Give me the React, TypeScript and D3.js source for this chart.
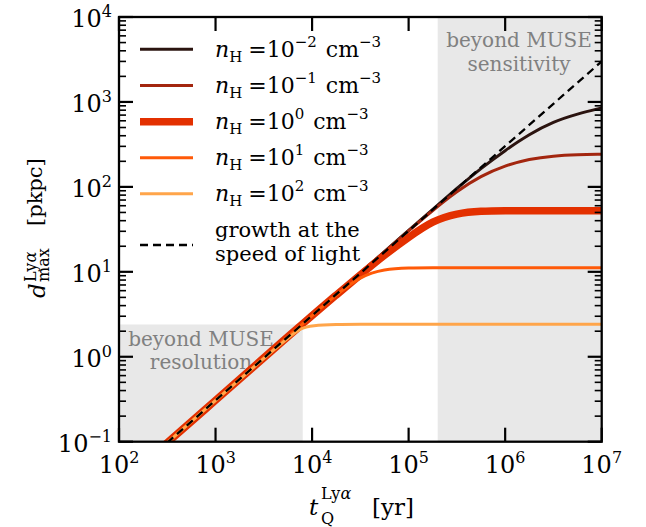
import React from 'react';
import * as d3 from 'd3';

// quasar age grid, t_Q [yr]
const tGrid = [250, 1000, 3160, 5620, 7500, 10000, 17800, 31600, 56200, 100000, 178000, 316000, 562000, 1000000, 1780000, 3160000, 5620000, 10000000];

// d_max [pkpc], one array per density
const dNHm2 = [0.077, 0.307, 0.97, 1.73, 2.3, 3.07, 5.46, 9.7, 17.3, 30.7, 54.5, 96, 166, 269, 417, 586, 724, 851];
const dNHm1 = [0.077, 0.307, 0.97, 1.73, 2.3, 3.07, 5.46, 9.7, 17.2, 30.4, 53, 89, 135, 178, 214, 232, 239, 242];
const dNH0 = [0.077, 0.307, 0.97, 1.73, 2.3, 3.05, 5.35, 9.2, 15.8, 25.5, 40, 49, 52, 52.5, 52.5, 52.5, 52.5, 52.5];
const dNH1 = [0.077, 0.307, 0.97, 1.73, 2.3, 3.06, 5.35, 8.9, 10.8, 11.15, 11.2, 11.2, 11.2, 11.2, 11.2, 11.2, 11.2, 11.2];
const dNH2 = [0.077, 0.307, 0.96, 1.66, 2.16, 2.34, 2.4, 2.41, 2.41, 2.41, 2.41, 2.41, 2.41, 2.41, 2.41, 2.41, 2.41, 2.41];

const nHExponents = ['\u22122', '\u22121', '0', '1', '2'];
const seriesValues = [dNHm2, dNHm1, dNH0, dNH1, dNH2];

// growth at the speed of light
const lightT = [250, 10000000];
const lightD = [0.077, 3000];

// shaded regions
const resolutionT = [100, 8000];
const resolutionD = [0.1, 2.4];
const sensitivityT = [200000, 10000000];

const xTickExps = [2, 3, 4, 5, 6, 7];
const yTickExps = [-1, 0, 1, 2, 3, 4];

const colors = ['#2b1410', '#a3260f', '#e33000', '#ff5a08', '#ffa54a'];
const widths = [3, 3, 7.5, 3, 3];

const W = 646;
const H = 527;
const left = 119;
const right = 601.7;
const top = 17;
const bottom = 441.7;

const serif = 'DejaVu Serif';

function expLabel(e: number) {
  return e < 0 ? '\u2212' + Math.abs(e) : String(e);
}

export default function App() {
  const x = d3.scaleLog().domain([1e2, 1e7]).range([left, right]);
  const y = d3.scaleLog().domain([1e-1, 1e4]).range([bottom, top]);

  const line = d3
    .line<[number, number]>()
    .x((d) => x(d[0]))
    .y((d) => y(d[1]))
    .curve(d3.curveBasis);

  const allY = y.ticks();
  const minorY = allY.filter((v) => Math.abs(Math.log10(v) - Math.round(Math.log10(v))) > 1e-6);

  const legendY = [49.3, 85.5, 121.7, 157.7, 193.7];

  return (
    <svg
      width={W}
      height={H}
      style={{ position: 'absolute', left: 0, top: 0, background: '#fff' }}
      fontFamily={serif}
    >
      <defs>
        <clipPath id="plotclip">
          <rect x={left} y={top} width={right - left} height={bottom - top} />
        </clipPath>
      </defs>

      {/* shaded regions */}
      <rect
        x={x(resolutionT[0])}
        y={y(resolutionD[1])}
        width={x(resolutionT[1]) - x(resolutionT[0])}
        height={y(resolutionD[0]) - y(resolutionD[1])}
        fill="#e8e8e8"
      />
      <rect
        x={x(sensitivityT[0])}
        y={top}
        width={x(sensitivityT[1]) - x(sensitivityT[0])}
        height={bottom - top}
        fill="#e8e8e8"
      />
      <g fill="#808080" fontSize={20} textAnchor="middle">
        <text x={519} y={47}>beyond MUSE</text>
        <text x={519} y={71}>sensitivity</text>
        <text x={201} y={346}>beyond MUSE</text>
        <text x={201} y={369}>resolution</text>
      </g>

      {/* curves */}
      <g clipPath="url(#plotclip)" fill="none">
        {seriesValues.map((vals, i) => (
          <path
            key={i}
            d={line(tGrid.map((t, j) => [t, vals[j]] as [number, number])) || ''}
            stroke={colors[i]}
            strokeWidth={widths[i]}
          />
        ))}
        <path
          d={line(lightT.map((t, j) => [t, lightD[j]] as [number, number])) || ''}
          stroke="#000"
          strokeWidth={2.3}
          strokeDasharray="8,5"
        />
      </g>

      {/* legend */}
      <g fontSize={22}>
        {nHExponents.map((e, i) => (
          <g key={i}>
            <line x1={140} x2={193} y1={legendY[i]} y2={legendY[i]} stroke={colors[i]} strokeWidth={widths[i]} />
            <text x={215} y={legendY[i] + 7.5}>
              <tspan fontStyle="italic">n</tspan>
              <tspan fontSize={15} dy={5}>H</tspan>
              <tspan dx={6} dy={-5}>=10</tspan>
              <tspan fontSize={15} dy={-10}>{e}</tspan>
              <tspan dx={9} dy={10}>cm</tspan>
              <tspan fontSize={15} dy={-10}>{'\u22123'}</tspan>
            </text>
          </g>
        ))}
        <line x1={140} x2={193} y1={245} y2={245} stroke="#000" strokeWidth={2.3} strokeDasharray="8,5" />
        <text x={215} y={237} fontSize={21}>growth at the</text>
        <text x={215} y={261} fontSize={21}>speed of light</text>
      </g>

      {/* frame */}
      <rect x={left} y={top} width={right - left} height={bottom - top} fill="none" stroke="#000" strokeWidth={2.3} />

      {/* ticks */}
      <g stroke="#000">
        {xTickExps.map((e) => {
          const px = x(Math.pow(10, e));
          return (
            <g key={'xt' + e} strokeWidth={2.2}>
              <line x1={px} x2={px} y1={bottom} y2={bottom - 14} />
              <line x1={px} x2={px} y1={top} y2={top + 14} />
            </g>
          );
        })}
        {yTickExps.map((e) => {
          const py = y(Math.pow(10, e));
          return (
            <g key={'yt' + e} strokeWidth={2.2}>
              <line x1={left} x2={left + 14} y1={py} y2={py} />
              <line x1={right} x2={right - 14} y1={py} y2={py} />
            </g>
          );
        })}
        {minorY.map((v, i) => {
          const py = y(v);
          return (
            <g key={'ym' + i} strokeWidth={1.6}>
              <line x1={left} x2={left + 7} y1={py} y2={py} />
              <line x1={right} x2={right - 7} y1={py} y2={py} />
            </g>
          );
        })}
      </g>

      {/* tick labels */}
      <g fontSize={24} fill="#000">
        {xTickExps.map((e) => (
          <text key={'xl' + e} x={x(Math.pow(10, e))} y={473} textAnchor="middle">
            10<tspan fontSize={16} dy={-10}>{expLabel(e)}</tspan>
          </text>
        ))}
        {yTickExps.map((e) => (
          <text key={'yl' + e} x={112} y={y(Math.pow(10, e)) + 10} textAnchor="end">
            10<tspan fontSize={16} dy={-10}>{expLabel(e)}</tspan>
          </text>
        ))}
      </g>

      {/* axis labels */}
      <g fontSize={23} fill="#000">
        <text x={309} y={515} fontStyle="italic">t</text>
        <text x={321} y={499} fontSize={16}>Ly<tspan fontStyle="italic">α</tspan></text>
        <text x={321} y={524} fontSize={16}>Q</text>
        <text x={372} y={515}>[yr]</text>

        <g transform="translate(45,298) rotate(-90)">
          <text x={0} y={0} fontStyle="italic">d</text>
          <text x={16} y={-9} fontSize={16}>Ly<tspan fontStyle="italic">α</tspan></text>
          <text x={16} y={4} fontSize={16}>max</text>
          <text x={72} y={-3} fontSize={21}>[pkpc]</text>
        </g>
      </g>
    </svg>
  );
}
